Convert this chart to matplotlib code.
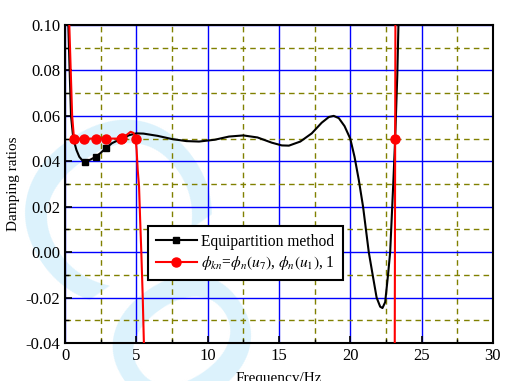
import matplotlib
matplotlib.use("Agg")
import matplotlib.pyplot as plt
from matplotlib.ticker import MultipleLocator

plt.rcParams["font.family"] = ["Liberation Serif", "DejaVu Serif"]
plt.rcParams["mathtext.fontset"] = "stix"

# --- data ---
# equipartition method, continuous curve
eq_x = [0.23, 0.3, 0.42, 0.58, 0.8, 1.0, 1.2, 1.4, 1.8, 2.16, 2.5, 2.84, 3.3,
        3.9, 4.0, 4.5, 5.0, 5.5, 6.5, 7.5, 8.5, 9.4, 10.5, 11.5, 12.5, 13.5,
        14.5, 15.2, 15.7, 16.5, 17.3, 18.0, 18.5, 18.84, 19.2, 19.6, 20.0,
        20.3, 20.6, 20.9, 21.3, 21.6, 21.85, 22.1, 22.26, 22.45, 22.65, 22.8,
        23.03, 23.15, 23.3, 23.38]
eq_y = [0.100, 0.085, 0.060, 0.050, 0.045, 0.042, 0.0405, 0.0398, 0.0408,
        0.0420, 0.0437, 0.0457, 0.0480, 0.0498, 0.0501, 0.0515, 0.0523,
        0.0522, 0.0512, 0.0498, 0.0489, 0.0487, 0.0495, 0.0509, 0.0514,
        0.0505, 0.0482, 0.0470, 0.0469, 0.0487, 0.0523, 0.0570, 0.0595,
        0.0600, 0.0590, 0.0555, 0.0500, 0.0420, 0.0318, 0.0200, 0.0000,
        -0.0110, -0.0200, -0.0240, -0.0246, -0.0220, -0.0100, 0.0000,
        0.0320, 0.0500, 0.0780, 0.1000]
# equipartition method, marked points
eq_mx = [0.63, 1.4, 2.16, 2.84, 3.9, 4.0]
eq_my = [0.050, 0.0398, 0.0420, 0.0457, 0.0498, 0.0501]

# phi_kn branch 1 (low frequency)
ph_x = [0.3, 0.4, 0.5, 0.63, 1.35, 2.14, 2.86, 3.9, 4.0, 4.3, 4.6, 4.8,
        4.95, 5.02, 5.1, 5.19, 5.27, 5.35, 5.45, 5.53, 5.56]
ph_y = [0.100, 0.080, 0.060, 0.050, 0.050, 0.050, 0.050, 0.050, 0.0502,
        0.0515, 0.0530, 0.0525, 0.050, 0.045, 0.036, 0.029, 0.014, 0.000,
        -0.020, -0.040, -0.046]
ph_mx = [0.63, 1.35, 2.14, 2.86, 3.9, 4.0, 4.95]
ph_my = [0.050, 0.050, 0.050, 0.050, 0.050, 0.0502, 0.050]
# phi_kn branch 2 (near 23 Hz)
ph2_x = [23.12, 23.15, 23.17]
ph2_y = [-0.045, 0.050, 0.105]
ph2_mx = [23.15]
ph2_my = [0.050]

fig = plt.figure(figsize=(5.06, 3.81), dpi=100)
ax = fig.add_axes([0.1285, 0.0997, 0.8455, 0.8346])
ax.set_facecolor("none")

# faint watermark behind the plot
fig.text(-0.12, 0.78, "Co", fontsize=175, color="#dcf2fc", rotation=-55,
         ha="left", va="top", zorder=-5, family="DejaVu Sans")

ax.plot(eq_x, eq_y, color="black", lw=1.5, zorder=3)
ax.plot(eq_mx, eq_my, "s", color="black", ms=5, zorder=3)
ax.plot(ph_x, ph_y, color="red", lw=1.5, zorder=4)
ax.plot(ph_mx, ph_my, "o", color="red", ms=6.5, zorder=4)
ax.plot(ph2_x, ph2_y, color="red", lw=1.5, zorder=4)
ax.plot(ph2_mx, ph2_my, "o", color="red", ms=6.5, zorder=4)

# legend proxies
h1, = ax.plot([], [], "-s", color="black", lw=1.5, ms=5)
h2, = ax.plot([], [], "-o", color="red", lw=1.5, ms=6.5)
leg = ax.legend([h1, h2],
                ["Equipartition method",
                 r"$\phi_{kn}$=$\phi_n(u_7)$, $\phi_n(u_1)$, 1"],
                loc="lower left", bbox_to_anchor=(0.195, 0.198),
                fontsize=11.2, handlelength=2.6,
                handletextpad=0.3, borderpad=0.5, labelspacing=0.3,
                borderaxespad=0, fancybox=False, framealpha=1,
                edgecolor="black")
leg.get_frame().set_linewidth(1.5)
leg.set_zorder(6)

ax.set_xlim(0, 30)
ax.set_ylim(-0.04, 0.10)
ax.xaxis.set_major_locator(MultipleLocator(5))
ax.xaxis.set_minor_locator(MultipleLocator(2.5))
ax.yaxis.set_major_locator(MultipleLocator(0.02))
ax.yaxis.set_minor_locator(MultipleLocator(0.01))
ax.yaxis.set_major_formatter(matplotlib.ticker.FormatStrFormatter("%.2f"))
ax.grid(which="major", color="#0000ff", lw=1.0, ls="-", zorder=1)
ax.grid(which="minor", color="#808000", lw=1.0, ls=(0, (4, 3)), zorder=1)
ax.set_axisbelow(True)
ax.tick_params(which="both", direction="in", labelsize=12, top=False,
               right=False)
ax.tick_params(which="major", length=5, width=1.2)
ax.tick_params(which="minor", length=3, width=1.0)
for s in ax.spines.values():
    s.set_linewidth(1.5)

ax.set_xlabel("Frequency/Hz", fontsize=11, labelpad=6)
ax.set_ylabel("Damping ratios", fontsize=11, labelpad=4)

fig.savefig("out.png", dpi=100)
